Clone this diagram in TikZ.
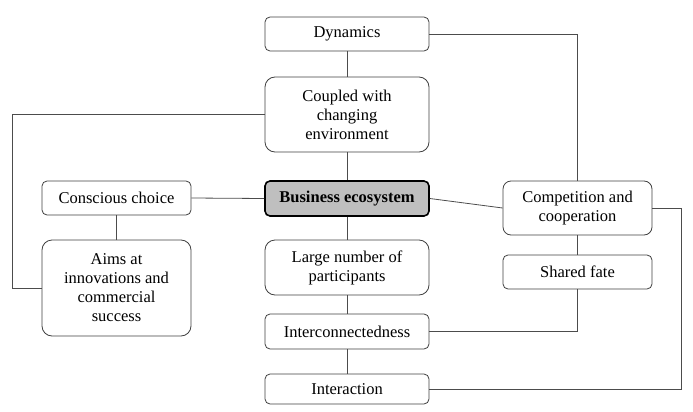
\documentclass[tikz,border=0pt]{standalone}
\usepackage{fontspec}
\setmainfont{Liberation Serif}
\begin{document}
\begin{tikzpicture}[x=1pt,y=-1pt,
  box/.style={draw=black!75,line width=0.8pt,rectangle,rounded corners=5pt,align=center,inner sep=0pt,
    font=\fontsize{16.5}{19}\selectfont,fill=white},
  bigbox/.style={box,rounded corners=10pt},
  main/.style={box,draw=black,line width=1.6pt,fill=black!25,font=\fontsize{16.5}{19}\selectfont\bfseries},
  link/.style={draw=black!70,line width=0.8pt}]
\useasboundingbox (0,0) rectangle (693,412);
\node[box,minimum width=164pt,minimum height=34pt] (dyn) at (347,34) {Dynamics};
\node[bigbox,minimum width=164pt,minimum height=75pt] (coup) at (347,114.5) {Coupled with\\changing\\environment};
\node[main,minimum width=164pt,minimum height=35pt] (biz) at (347,198.5) {Business ecosystem};
\node[box,minimum width=149pt,minimum height=34pt] (cons) at (116.5,198) {Conscious choice};
\node[bigbox,minimum width=149pt,minimum height=96pt] (aims) at (116.5,288) {Aims at\\innovations and\\commercial\\success};
\node[bigbox,minimum width=164pt,minimum height=55pt] (large) at (347,267.5) {Large number of\\participants};
\node[box,minimum width=164pt,minimum height=35pt] (inter) at (347,331.5) {Interconnectedness};
\node[box,minimum width=164pt,minimum height=30pt] (act) at (347,389) {Interaction};
\node[box,rounded corners=8pt,minimum width=149pt,minimum height=54pt] (comp) at (577.5,208) {Competition and\\cooperation};
\node[box,minimum width=149pt,minimum height=34pt] (fate) at (577.5,272) {Shared fate};
\coordinate (lc) at (12,114.5);
\coordinate (rc) at (681,208);
\draw[link] (dyn) -- (coup);
\draw[link] (coup) -- (biz);
\draw[link] (biz) -- (large);
\draw[link] (large) -- (inter);
\draw[link] (inter) -- (act);
\draw[link] (cons) -- (aims);
\draw[link] (cons.east) -- (biz.west);
\draw[link] (biz.east) -- (comp.west);
\draw[link] (comp) -- (fate);
\draw[link] (dyn.east) -| (comp.north);
\draw[link] (inter.east) -| (fate.south);
\draw[link] (coup.west) -- (lc) |- (aims.west);
\draw[link] (comp.east) -- (rc) |- (act.east);
\end{tikzpicture}
\end{document}
